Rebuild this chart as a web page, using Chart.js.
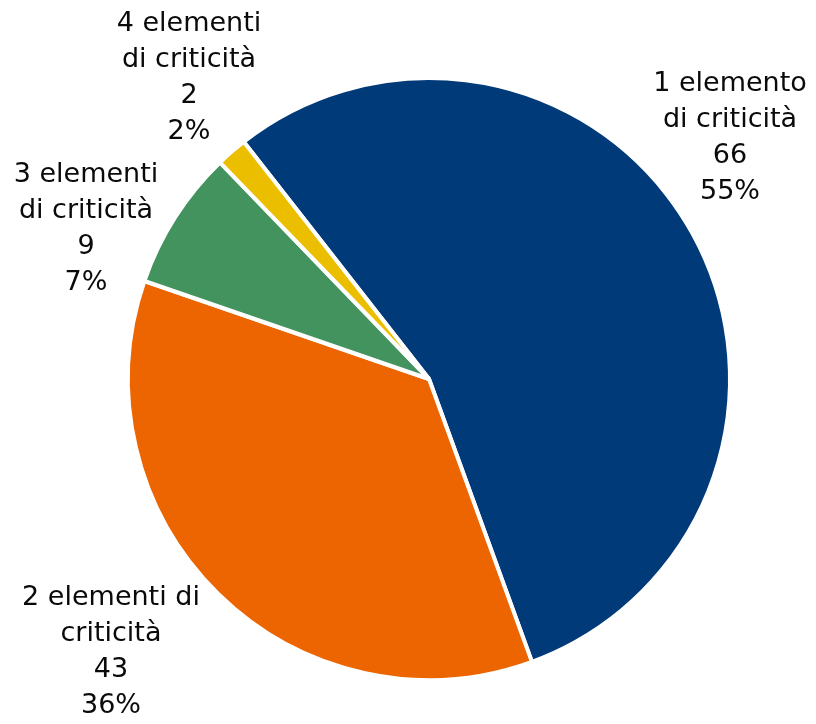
<!DOCTYPE html>
<html>
<head>
<meta charset="utf-8">
<script src="https://cdn.jsdelivr.net/npm/chart.js@4"></script>
<style>
  html, body { margin: 0; padding: 0; background: #fff; }
  #wrap { width: 816px; height: 724px; position: relative; }
</style>
</head>
<body>
<div id="wrap"><canvas id="chart"></canvas></div>
<script>
const categories = [
  ['1 elemento', 'di criticità'],
  ['2 elementi di', 'criticità'],
  ['3 elementi', 'di criticità'],
  ['4 elementi', 'di criticità'],
];
const counts = [66, 43, 9, 2];
const percentLabels = ['55%', '36%', '7%', '2%'];
const sliceColors = ['#003a78', '#ec6500', '#43935e', '#ebbe00'];

// where each label block is centred, relative to the pie centre
const labelOffsets = [
  { dx: 301, dy: -241 },
  { dx: -318, dy: 273 },
  { dx: -343, dy: -150 },
  { dx: -240, dy: -301 },
];

const FONT = '27px "DejaVu Sans"';
const LINE_HEIGHT = 36;

const outsideLabels = {
  id: 'outsideLabels',
  afterDatasetsDraw(chart) {
    const { ctx } = chart;
    const arcs = chart.getDatasetMeta(0).data;
    ctx.save();
    ctx.font = FONT;
    ctx.fillStyle = '#0a0a0a';
    ctx.textAlign = 'center';
    ctx.textBaseline = 'middle';
    arcs.forEach((arc, i) => {
      const lines = [...categories[i], String(counts[i]), percentLabels[i]];
      const cx = arc.x + labelOffsets[i].dx;
      const cy = arc.y + labelOffsets[i].dy;
      const top = cy - (lines.length - 1) * LINE_HEIGHT / 2;
      lines.forEach((line, k) => ctx.fillText(line, cx, top + k * LINE_HEIGHT));
    });
    ctx.restore();
  }
};

new Chart(document.getElementById('chart'), {
  type: 'pie',
  data: {
    labels: categories.map(c => c.join(' ')),
    datasets: [{
      data: counts,
      backgroundColor: sliceColors,
      borderColor: '#fff',
      borderWidth: 4,
    }]
  },
  options: {
    responsive: true,
    maintainAspectRatio: false,
    animation: false,
    rotation: -38,
    layout: { padding: { left: 126, right: 84, top: 76, bottom: 42 } },
    plugins: {
      legend: { display: false },
      tooltip: { enabled: false },
    }
  },
  plugins: [outsideLabels]
});
</script>
</body>
</html>
